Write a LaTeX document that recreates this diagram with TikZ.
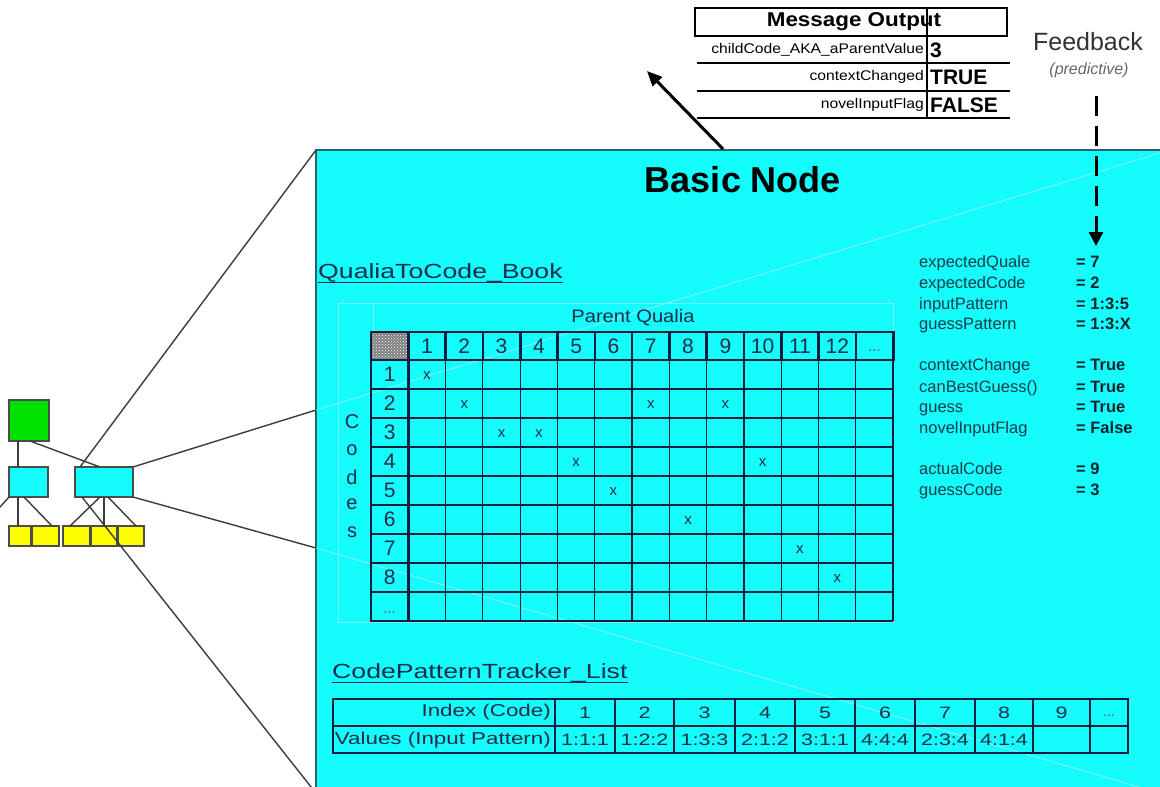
\documentclass[tikz,border=0pt]{standalone}
\usepackage{fontspec}
\setmainfont{Liberation Sans}
\newfontfamily\widefont[FakeStretch=1.3]{Liberation Sans}
\newfontfamily\midfont[FakeStretch=1.12]{Liberation Sans}
\usetikzlibrary{arrows.meta,patterns}
\definecolor{boxcyan}{RGB}{20,252,252}
\definecolor{boxedge}{RGB}{40,100,110}
\definecolor{gridline}{RGB}{20,30,60}
\definecolor{gridtext}{RGB}{35,45,70}
\definecolor{nodegreen}{RGB}{0,225,0}
\definecolor{nodeyellow}{RGB}{255,255,0}
\definecolor{faintline}{RGB}{120,240,250}
\definecolor{conn}{RGB}{60,60,60}
\definecolor{vartext}{RGB}{25,60,75}
\definecolor{headtext}{RGB}{25,45,75}
\begin{document}
\begin{tikzpicture}[x=1pt,y=-1pt,
  minibox/.style={draw=black!70, line width=1.3pt, inner sep=0pt, outer sep=0pt},
  conline/.style={draw=conn, line width=1.4pt},
  gthin/.style={draw=gridline, line width=1.1pt},
  gthick/.style={draw=gridline, line width=2.6pt},
  gtext/.style={inner sep=0pt, text=gridtext, font=\fontsize{21}{21}\selectfont},
  xmk/.style={inner sep=0pt, text=gridtext, font=\fontsize{15}{15}\selectfont},
  ttext/.style={inner sep=0pt, text=gridtext, font=\widefont\fontsize{16.5}{16.5}\selectfont},
  tlabel/.style={inner sep=0pt, anchor=east, text=gridtext, font=\widefont\fontsize{17.2}{17.2}\selectfont},
  vname/.style={anchor=base west, inner sep=0pt, text=vartext, font=\fontsize{16.5}{16.5}\selectfont},
  vval/.style={anchor=base west, inner sep=0pt, text=vartext!60!black, font=\fontsize{16.5}{16.5}\selectfont\bfseries},
  sect/.style={anchor=base west, inner sep=0pt, text=headtext, font=\widefont\fontsize{20.5}{20.5}\selectfont},
  motext/.style={anchor=east, inner sep=0pt, font=\midfont\fontsize{14}{14}\selectfont},
  moval/.style={anchor=west, inner sep=0pt, font=\bfseries\fontsize{21}{21}\selectfont},
  moline/.style={draw=black, line width=1.5pt},
  faint/.style={draw=faintline, line width=1pt}
]
\useasboundingbox (0,0) rectangle (1160,787);
\fill[white] (0,0) rectangle (1160,787);

% ---------- big node box ----------
\node[draw=boxedge, line width=2.5pt, fill=boxcyan, anchor=north west,
      minimum width=880pt, minimum height=660pt, inner sep=0pt, outer sep=0pt] (big) at (316,150) {};
\coordinate (pr1) at (316,410);
\coordinate (pr2) at (316,548);
\coordinate (pbl) at (319,797);
\coordinate (fe1) at (1160,153);
\coordinate (fe2) at (1160,793);
\draw[faint] (pr1) -- (fe1);
\draw[faint] (pr2) -- (fe2);

% ---------- mini hierarchy ----------
\node[minibox, fill=nodegreen, minimum width=40pt, minimum height=41pt] (g) at (29,420.5) {};
\node[minibox, fill=boxcyan, minimum width=39pt, minimum height=30pt] (lc) at (28.5,482) {};
\node[minibox, fill=boxcyan, minimum width=58pt, minimum height=30pt] (sc) at (104,482) {};
\node[minibox, fill=nodeyellow, minimum width=22pt, minimum height=20pt] (y1) at (20,536) {};
\node[minibox, fill=nodeyellow, minimum width=27pt, minimum height=20pt] (y2) at (45.5,536) {};
\node[minibox, fill=nodeyellow, minimum width=27pt, minimum height=20pt] (y3) at (76.5,536) {};
\node[minibox, fill=nodeyellow, minimum width=26pt, minimum height=20pt] (y4) at (104,536) {};
\node[minibox, fill=nodeyellow, minimum width=26pt, minimum height=20pt] (y5) at (131,536) {};
\coordinate (offl) at (-9,517);

\draw[conline] ([xshift=9pt]g.south west) -- ([xshift=9pt]lc.north west);
\draw[conline] ([xshift=21pt]g.south west) -- ([xshift=25pt]sc.north west);
\draw[conline] ([xshift=9pt]lc.south west) -- ([xshift=-2pt]y1.north);
\draw[conline] ([xshift=15pt]lc.south west) -- ([xshift=-7pt]y2.north east);
\draw[conline] (lc.south west) -- (offl);
\draw[conline] ([xshift=-4pt]sc.south) -- ([xshift=7pt]y3.north west);
\draw[conline] (sc.south) -- (y4.north);
\draw[conline] ([xshift=4pt]sc.south) -- ([xshift=-8pt]y5.north east);

% perspective lines
\draw[conline] ([xshift=5pt]sc.north west) -- (big.north west);
\draw[conline] (sc.north east) -- (pr1);
\draw[conline] (sc.south east) -- (pr2);
\draw[conline] ([xshift=7pt]sc.south west) -- (pbl);

% ---------- message output ----------
\node[draw=black, line width=1.5pt, minimum width=312pt, minimum height=28pt,
      anchor=north west, inner sep=0pt, outer sep=0pt] (mohead) at (695,8) {};
\node[inner sep=0pt, font=\midfont\bfseries\fontsize{20}{20}\selectfont] (motitle) at (854,22) {Message Output};
\draw[moline] (927,8) -- (927,118);
\draw[moline] (697,63) -- (1010,63);
\draw[moline] (697,91) -- (1010,91);
\draw[moline] (697,118) -- (1010,118);
\node[motext] (mo1) at (924,50) {childCode\_AKA\_aParentValue};
\node[motext] (mo2) at (924,77) {contextChanged};
\node[motext] (mo3) at (924,105) {novelInputFlag};
\node[moval] (mv1) at (930,50) {3};
\node[moval] (mv2) at (930,77) {TRUE};
\node[moval] (mv3) at (930,105) {FALSE};

\coordinate (mostart) at (723,149);
\coordinate (moarr) at (647,71);
\draw[line width=3pt, -{Triangle[length=15pt,width=13pt]}] (mostart) -- (moarr);

% ---------- feedback ----------
\node[inner sep=0pt, text=black!80, font=\fontsize{25}{25}\selectfont] (fb) at (1088,42) {Feedback};
\node[inner sep=0pt, text=black!60, font=\itshape\fontsize{16}{16}\selectfont] (pred) at (1089,70) {(predictive)};
\coordinate (fbs) at (1096,96);
\coordinate (fbe) at (1096,246);
\draw[line width=3pt, dash pattern=on 20pt off 10pt, -{Triangle[length=14pt,width=14pt]}] (fbs) -- (fbe);

% ---------- title ----------
\node[inner sep=0pt, font=\bfseries\fontsize{36}{36}\selectfont] (bn) at (743,180) {Basic Node};

% ---------- QualiaToCode book ----------
\node[sect] (qt) at (318,278) {QualiaToCode\_Book};
\draw[headtext, line width=1.3pt] ([yshift=-4.5pt]qt.base west) -- ([yshift=-4.5pt]qt.base east);

\draw[faint] (338,303) rectangle (893.2,622);
\draw[faint] (373,303) -- (373,332);
\node[inner sep=0pt, text=gridtext, font=\midfont\fontsize{18}{18}\selectfont] (pq) at (633,318) {Parent Qualia};

% checkered corner
\fill[black!50] (372.3,333.3) rectangle (407,358.7);
\fill[pattern=crosshatch dots, pattern color=white] (372.3,333.3) rectangle (407,358.7);

% thin grid
\foreach \i in {1,...,13} \draw[gthin] ({371+37.3*\i},332) -- ({371+37.3*\i},621);
\foreach \j in {1,...,9} \draw[gthin] (371,{360+29*\j}) -- (893.2,{360+29*\j});
\draw[draw=gridline, line width=1.6pt] (893.2,332) -- (893.2,621);
% thick parts
\draw[gthick] (371,332) rectangle (893.2,360);
\foreach \i in {1,...,13} \draw[gthick] ({371+37.3*\i},332) -- ({371+37.3*\i},360);
\draw[gthick] (371,332) rectangle (408.3,621);
\foreach \j in {1,...,8} \draw[gthick] (371,{360+29*\j}) -- (408.3,{360+29*\j});
\draw[gthick] (632.1,360) -- (632.1,621);

% header numbers
\foreach \i in {1,...,12} \node[gtext] (h\i) at ({371+37.3*\i+18.65},346.5) {\i};
\node[inner sep=0pt, text=gray!60!gridtext, font=\fontsize{15}{15}\selectfont] (hdots) at (874.5,351) {...};
% row numbers
\foreach \j in {1,...,8} \node[gtext] (r\j) at (389.65,{360+29*\j-14.5}) {\j};
\node[inner sep=0pt, text=gray!60!gridtext, font=\fontsize{15}{15}\selectfont] (rdots) at (389.65,613) {...};
% codes label
\foreach \ch/\yy [count=\k] in {C/422,o/450,d/477,e/504,s/532}
  \node[inner sep=0pt, text=gridtext, font=\fontsize{20}{20}\selectfont] (cl\k) at (352,\yy) {\ch};
% x marks
\foreach \r/\c in {1/1,2/2,2/7,2/9,3/3,3/4,4/5,4/10,5/6,6/8,7/11,8/12}
  \node[xmk] (x\r-\c) at ({371+37.3*\c+18.65},{360+29*\r-13.5}) {x};

% ---------- variables ----------
\foreach \n/\v/\y [count=\k] in {expectedQuale/7/267, expectedCode/2/288, inputPattern/1:3:5/309, guessPattern/1:3:X/329,
    contextChange/True/370, canBestGuess()/True/392, guess/True/412, novelInputFlag/False/433,
    actualCode/9/474, guessCode/3/495}
  { \node[vname] (vn\k) at (919,\y) {\n};
    \node[vval] (vv\k) at (1076,\y) {= \v}; }

% ---------- CodePatternTracker list ----------
\node[sect] (ct) at (332,678) {CodePatternTracker\_List};
\draw[headtext, line width=1.3pt] ([yshift=-4.5pt]ct.base west) -- ([yshift=-4.5pt]ct.base east);

\foreach \x in {615,674,735,795,855,915,975,1033,1090} \draw[gthin] (\x,726) -- (\x,753);
\foreach \x in {555,615,674,735,795,855,915,975,1033,1090} \draw[gthick] (\x,699) -- (\x,726);
\draw[gthick] (555,726) -- (555,753);
\draw[gthick] (333,726) -- (1128,726);
\draw[gthick] (333,699) rectangle (1128,753);

\node[tlabel] (tlab1) at (551,712.5) {Index  (Code)};
\node[tlabel] (tlab2) at (551,740) {Values (Input Pattern)};
\foreach \v/\cx [count=\k] in {1/585,2/644.5,3/704.5,4/765,5/825,6/885,7/945,8/1004,9/1061.5}
  \node[ttext] (ti\k) at (\cx,712.5) {\v};
\node[inner sep=0pt, text=gray!60!gridtext, font=\fontsize{14}{14}\selectfont] (tidots) at (1109,716) {...};
\foreach \v/\cx [count=\k] in {1:1:1/585,1:2:2/644.5,1:3:3/704.5,2:1:2/765,3:1:1/825,4:4:4/885,2:3:4/945,4:1:4/1004}
  \node[ttext] (tv\k) at (\cx,740) {\v};
\end{tikzpicture}
\end{document}
